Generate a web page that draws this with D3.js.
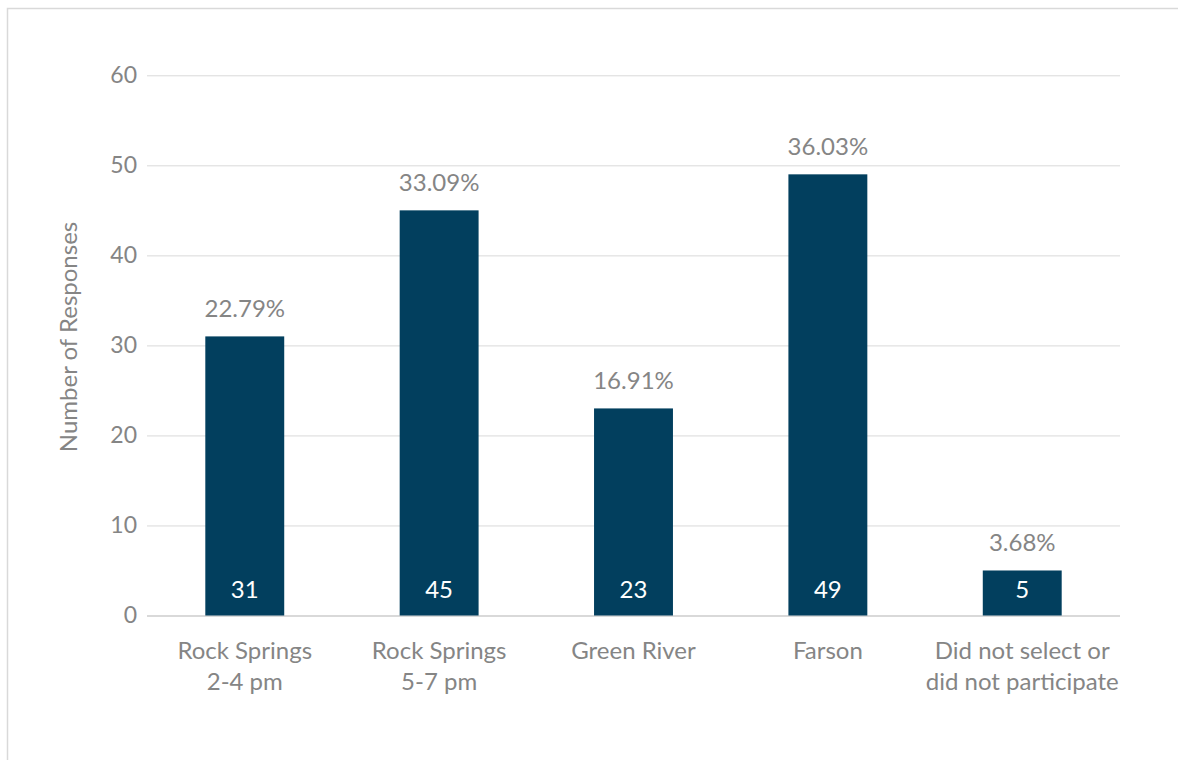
<!DOCTYPE html>
<html><head><meta charset="utf-8">
<script src="https://cdn.jsdelivr.net/npm/d3@7"></script>
<style>
body{margin:0;background:#fff;}
text{font-family:"Lato","Noto Sans",sans-serif;}
</style></head>
<body><svg id="c" width="1178" height="760"></svg>
<script>
const categories = [["Rock Springs","2-4 pm"],["Rock Springs","5-7 pm"],["Green River"],["Farson"],["Did not select or","did not participate"]];
const values = [31,45,23,49,5];
const percents = ["22.79%","33.09%","16.91%","36.03%","3.68%"];
const yTicks = [0,10,20,30,40,50,60];
const yTitle = "Number of Responses";

const svg = d3.select("#c");
svg.append("rect").attr("x",7.5).attr("y",8.5).attr("width",1180).attr("height",760)
  .attr("fill","none").attr("stroke","#d9d9d9").attr("stroke-width",1.5);

const x = d3.scaleBand().domain(d3.range(values.length)).range([147,1120]).paddingInner(0.594).paddingOuter(0.3);
const y = d3.scaleLinear().domain([0,60]).range([615.5,75.3]);

const gray="#858585";
const yAxis = svg.append("g").attr("transform","translate(147,0)")
  .call(d3.axisLeft(y).tickValues(yTicks).tickSize(-973).tickPadding(10));
yAxis.select(".domain").remove();
yAxis.selectAll(".tick line").attr("stroke","#d9d9d9").attr("stroke-width",1);
yAxis.selectAll(".tick text").attr("fill",gray).style("font-size","23px").style("font-family","Lato, sans-serif");
yAxis.selectAll(".tick").filter(d=>d===0).select("line").attr("stroke","#d9d9d9").attr("stroke-width",2);

svg.append("text").attr("transform","translate(77,337) rotate(-90)").attr("text-anchor","middle")
  .attr("fill",gray).style("font-size","24px").text(yTitle);

svg.selectAll(".bar").data(values).join("rect").attr("class","bar")
  .attr("x",(d,i)=>x(i)).attr("width",x.bandwidth())
  .attr("y",d=>y(d)).attr("height",d=>y(0)-y(d)).attr("fill","#023F5E");

svg.selectAll(".val").data(values).join("text").attr("class","val")
  .attr("x",(d,i)=>x(i)+x.bandwidth()/2).attr("y",y(0)-17.5).attr("text-anchor","middle")
  .attr("fill","#fff").style("font-size","24px").text(d=>d);

svg.selectAll(".pct").data(values).join("text").attr("class","pct")
  .attr("x",(d,i)=>x(i)+x.bandwidth()/2).attr("y",d=>y(d)-19).attr("text-anchor","middle")
  .attr("fill",gray).style("font-size","24px").text((d,i)=>percents[i]);

const cl = svg.selectAll(".cat").data(categories).join("text").attr("class","cat")
  .attr("x",(d,i)=>x(i)+x.bandwidth()/2).attr("y",659).attr("text-anchor","middle")
  .attr("fill",gray).style("font-size","24px");
cl.selectAll("tspan").data(d=>d).join("tspan")
  .attr("x",function(){return this.parentNode.getAttribute("x");})
  .attr("dy",(d,j)=>j===0?0:31).text(d=>d);
</script></body></html>
